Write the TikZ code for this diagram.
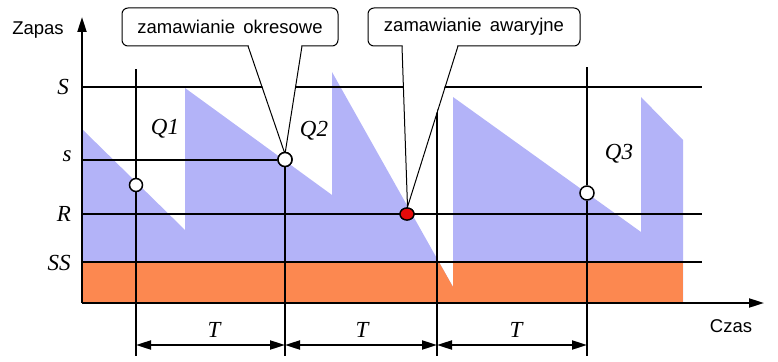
\documentclass[tikz,border=0pt]{standalone}
\usepackage{fontspec}
\setmainfont{Liberation Serif}
\newfontfamily\arialf{Liberation Sans}
\usetikzlibrary{arrows.meta,shapes.geometric}
\definecolor{stockblue}{RGB}{179,179,248}
\definecolor{ssorange}{RGB}{252,136,80}
\definecolor{alarmred}{RGB}{228,10,10}
\begin{document}
\begin{tikzpicture}[x=1pt,y=-1pt,
  lev/.style={line width=2pt},
  axtip/.style={line width=2pt,-{Triangle[length=15pt,width=9pt]}},
  dimline/.style={line width=2pt,{Triangle[length=15pt,width=9pt]}-{Triangle[length=15pt,width=9pt]}},
  callbox/.style={draw, line width=1pt, fill=white, rounded corners=6pt, inner sep=0pt,
    font=\arialf\fontsize{18.5}{21}\selectfont},
  ptr/.style={line width=1pt},
  lbl/.style={font=\itshape\fontsize{23}{25}\selectfont, inner sep=0pt},
  axlbl/.style={font=\arialf\fontsize{18.5}{21}\selectfont, inner sep=0pt},
  ordpt/.style={circle, draw, line width=1.5pt, fill=white, minimum size=13pt, inner sep=0pt},
  alarmpt/.style={ellipse, draw, line width=1.3pt, fill=alarmred, minimum width=14pt, minimum height=12pt, inner sep=0pt},
]
\useasboundingbox (0,0) rectangle (778,361);

% stock level sawtooth
\path[fill=stockblue] (83,130) -- (185,230) -- (185,88) -- (332,195) -- (332,72)
  -- (453,287) -- (453,97) -- (641,232) -- (641,97) -- (683,140) -- (683,303) -- (83,303) -- cycle;
\begin{scope}
  \clip (83,130) -- (185,230) -- (185,88) -- (332,195) -- (332,72)
  -- (453,287) -- (453,97) -- (641,232) -- (641,97) -- (683,140) -- (683,303) -- (83,303) -- cycle;
  \fill[ssorange] (82,263) rectangle (683,303);
\end{scope}

% axes
\coordinate (O) at (82,303);
\coordinate (Ytop) at (82,17);
\coordinate (Xend) at (764,303);
\draw[axtip] (O) -- (Ytop);
\draw[axtip] (O) -- (Xend);

% points
\node[ordpt] (q1) at (136,185) {};
\node[ordpt, minimum size=14pt] (q2) at (285,159.5) {};
\node[ordpt, minimum size=14pt] (q3) at (587,193) {};
\node[alarmpt] (alarm) at (407,214) {};

% level lines
\coordinate (sl) at (82,159.5);
\draw[lev] (82,87) -- (702,87);
\draw[lev] (sl) -- (q2);
\draw[lev] (82,214) -- (702,214);
\draw[lev] (82,262) -- (702,262);

% vertical lines
\coordinate (v1t) at (136,69);  \coordinate (v1b) at (136,356);
\coordinate (v2b) at (285,356);
\coordinate (v3t) at (437,67);  \coordinate (v3b) at (437,356);
\coordinate (v4t) at (587,67);  \coordinate (v4b) at (587,356);
\draw[lev] (v1t) -- (q1) -- (v1b);
\draw[lev] (q2) -- (v2b);
\draw[lev] (v3t) -- (v3b);
\draw[lev] (v4t) -- (q3) -- (v4b);

% dimension arrows
\coordinate (d1) at (136,345);
\coordinate (d2) at (285,345);
\coordinate (d3) at (437,345);
\coordinate (d4) at (587,345);
\draw[dimline] (d1) -- (d2);
\draw[dimline] (d2) -- (d3);
\draw[dimline] (d3) -- (d4);
\node[lbl] (t1) at (214,330) {T};
\node[lbl] (t2) at (362,330) {T};
\node[lbl] (t3) at (516,330) {T};

% callouts
\node[callbox, minimum width=216pt, minimum height=38pt] (box1) at (230,27) {zamawianie\hspace{0.45em}okresowe};
\node[callbox, minimum width=212pt, minimum height=38pt] (box2) at (474,27) {zamawianie\hspace{0.45em}awaryjne};
\coordinate (p1a) at (248,46);
\coordinate (p1b) at (302,46);
\coordinate (p1t) at (285,154);
\coordinate (p2a) at (402,46);
\coordinate (p2b) at (458,46);
\coordinate (p2t) at (407.5,207);
\fill[white] (248.6,45) -- (p1t) -- (301.4,45) -- cycle;
\fill[white] (402.6,45) -- (p2t) -- (457.4,45) -- cycle;
\draw[ptr] (p1a) -- (p1t) -- (p1b);
\draw[ptr] (p2a) -- (p2t) -- (p2b);

% redraw points on top
\node[ordpt, minimum size=14pt] at (q2) {};
\node[alarmpt] at (alarm) {};

% labels
\node[axlbl] (zapas) at (38,30) {Zapas};
\node[axlbl] (czas) at (731,326) {Czas};
\node[lbl] (lS) at (63,87) {S};
\node[lbl] (ls) at (67,156) {s};
\node[lbl] (lR) at (64,214) {R};
\node[lbl] (lSS) at (59,263) {SS};
\node[lbl] (Q1) at (165,129) {Q1};
\node[lbl] (Q2) at (314,131) {Q2};
\node[lbl] (Q3) at (619,154) {Q3};
\end{tikzpicture}
\end{document}
